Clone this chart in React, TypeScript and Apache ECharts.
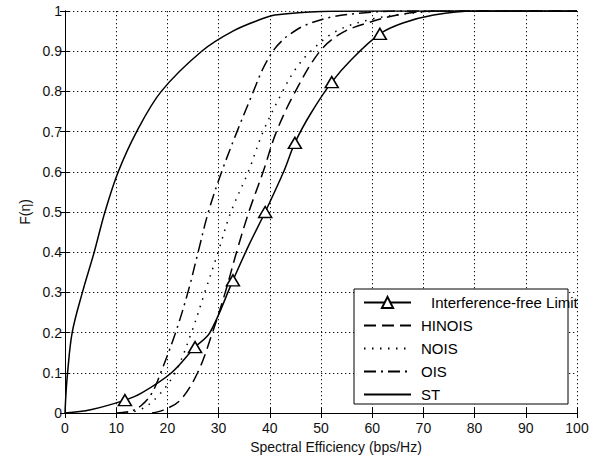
import React, { useEffect, useRef } from "react";
import * as echarts from "echarts";

const seriesNames = ["Interference-free Limit", "HINOIS", "NOIS", "OIS", "ST"];

// Interference-free limit (solid line with triangle markers)
const ifLimit: [number, number][] = [
  [0, 0], [5, 0.008], [11.7, 0.032], [15, 0.05], [20.8, 0.1], [25.4, 0.164],
  [28.3, 0.2], [32.8, 0.33], [36, 0.42], [39.1, 0.5], [42.7, 0.6], [44.9, 0.672],
  [48, 0.745], [52.1, 0.823], [56, 0.88], [61.5, 0.943], [66, 0.97], [72, 0.99],
  [80, 1], [100, 1],
];
const ifMarkerX = [11.7, 25.4, 32.8, 39.1, 44.9, 52.1, 61.5];

const hinois: [number, number][] = [
  [17, 0], [19.2, 0.007], [22.5, 0.032], [25.9, 0.1], [28.8, 0.2], [31.3, 0.3],
  [33.5, 0.4], [35.9, 0.5], [38.7, 0.6], [41.3, 0.7], [45, 0.8], [49.8, 0.9],
  [54, 0.945], [59, 0.97], [65, 0.99], [72, 1], [100, 1],
];

const nois: [number, number][] = [
  [12, 0], [15, 0.01], [18, 0.04], [21.5, 0.1], [24.7, 0.2], [27.3, 0.3],
  [29.9, 0.4], [32.4, 0.5], [35.8, 0.6], [38.7, 0.7], [42.5, 0.8], [45, 0.855],
  [48, 0.9], [53, 0.95], [60, 0.98], [68, 0.995], [75, 1], [100, 1],
];

const ois: [number, number][] = [
  [10, 0], [13, 0.005], [15, 0.02], [17, 0.05], [18.7, 0.1], [21.6, 0.2],
  [24, 0.3], [26, 0.4], [28, 0.5], [30.6, 0.6], [33.6, 0.7], [36.8, 0.8],
  [38.6, 0.855], [40.6, 0.9], [42.3, 0.925], [44, 0.943], [47, 0.965],
  [52, 0.985], [58, 0.995], [65, 1], [100, 1],
];

const st: [number, number][] = [
  [0, 0], [0.2, 0.05], [0.5, 0.1], [1.4, 0.2], [3.4, 0.3], [5.7, 0.4], [7.8, 0.5],
  [10.4, 0.6], [14, 0.7], [18.8, 0.8], [26.7, 0.9], [32.8, 0.95], [38.4, 0.98],
  [41, 0.99], [50, 0.999], [60, 1], [100, 1],
];

const FONT = "Liberation Sans, Arial, Helvetica, sans-serif";

export default function App() {
  const ref = useRef<HTMLDivElement>(null);

  useEffect(() => {
    if (!ref.current) return;
    const chart = echarts.init(ref.current, undefined, { renderer: "svg" });

    const gridLine = { show: true, lineStyle: { color: "#111", width: 1, type: [1.3, 2.7] as any } };
    const axisLine = { show: true, lineStyle: { color: "#000", width: 1 } };
    const tick = { show: true, inside: true, length: 5, lineStyle: { color: "#000" } };

    const baseLine = (name: string, data: any[], dash: any) => ({
      name,
      type: "line",
      data,
      symbol: "none",
      smooth: 0.35,
      lineStyle: { color: "#000", width: 1.5, type: dash },
      itemStyle: { color: "#000" },
      z: 2,
    });

    chart.setOption({
      animation: false,
      backgroundColor: "#fff",
      grid: { left: 65, right: 29, top: 11, bottom: 46, show: false },
      xAxis: [
        {
          type: "value",
          min: 0,
          max: 100,
          interval: 10,
          position: "bottom",
          name: "Spectral Efficiency (bps/Hz)",
          nameLocation: "middle",
          nameGap: 24,
          nameTextStyle: { fontFamily: FONT, fontSize: 14, color: "#111", padding: [0, 0, 0, 30] },
          axisLine,
          axisTick: tick,
          axisLabel: { fontFamily: FONT, fontSize: 14, color: "#111", margin: 8 },
          splitLine: gridLine,
        },
        {
          type: "value",
          min: 0,
          max: 100,
          interval: 10,
          position: "top",
          axisLine,
          axisTick: tick,
          axisLabel: { show: false },
          splitLine: { show: false },
        },
      ],
      yAxis: [
        {
          type: "value",
          min: 0,
          max: 1,
          interval: 0.1,
          position: "left",
          name: "F(η)",
          nameLocation: "middle",
          nameGap: 30,
          nameTextStyle: { fontFamily: FONT, fontSize: 14, color: "#111" },
          axisLine,
          axisTick: tick,
          axisLabel: { fontFamily: FONT, fontSize: 14, color: "#111", margin: 3 },
          splitLine: gridLine,
        },
        {
          type: "value",
          min: 0,
          max: 1,
          interval: 0.1,
          position: "right",
          axisLine,
          axisTick: tick,
          axisLabel: { show: false },
          splitLine: { show: false },
        },
      ],
      graphic: [
        {
          type: "rect",
          shape: { x: 354, y: 289, width: 214, height: 115 },
          style: { fill: "#fff", stroke: "#000", lineWidth: 1 },
          z: 3,
        },
      ],
      legend: {
        orient: "vertical",
        left: 363,
        top: 295,
        padding: 0,
        itemWidth: 47,
        itemHeight: 14,
        itemGap: 8,
        z: 5,
        backgroundColor: "transparent",
        textStyle: { fontFamily: FONT, fontSize: 15, color: "#000", lineHeight: 14, padding: [0, 0, 0, 5] },
        data: seriesNames.map((n, i) =>
          i === 0
            ? { name: n, textStyle: { padding: [0, 0, 0, 15] } }
            : { name: n, itemStyle: { opacity: 0 } }
        ),
      },
      series: [
        {
          name: seriesNames[0],
          type: "line",
          data: ifLimit.map(([x, y]) =>
            ifMarkerX.includes(x) ? { value: [x, y] } : { value: [x, y], symbol: "none" }
          ),
          symbol: "triangle",
          symbolSize: [13, 11],
          showSymbol: true,
          smooth: 0.35,
          lineStyle: { color: "#000", width: 1.5, type: "solid" },
          itemStyle: { color: "#fff", borderColor: "#000", borderWidth: 1.5 },
          z: 2,
        },
        baseLine(seriesNames[1], hinois, [12, 6]),
        baseLine(seriesNames[2], nois, [1.5, 6.5]),
        baseLine(seriesNames[3], ois, [12, 5, 2, 5]),
        baseLine(seriesNames[4], st, "solid"),
      ],
    });

    return () => chart.dispose();
  }, []);

  return (
    <div
      ref={ref}
      style={{ position: "fixed", left: 0, top: 0, width: 606, height: 459, background: "#fff" }}
    />
  );
}
